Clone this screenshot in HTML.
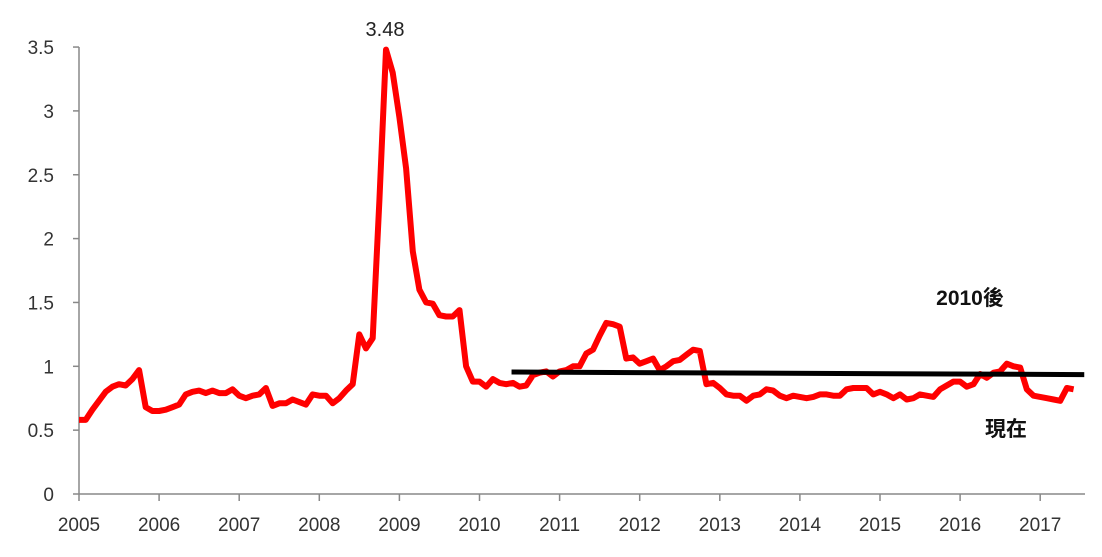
<!DOCTYPE html>
<html><head><meta charset="utf-8"><style>
body{margin:0;background:#fff;}
svg text{font-family:"Liberation Sans","Noto Sans CJK TC",sans-serif;}
</style></head><body>
<svg id="chart" width="1102" height="552" xmlns="http://www.w3.org/2000/svg">
<g id="axes"></g>
<g id="series"></g>
<text x="385" y="36" font-size="20" text-anchor="middle" fill="#222">3.48</text>
<text x="970" y="305" font-size="21" font-weight="bold" text-anchor="middle" fill="#111">2010後</text>
<text x="1006" y="436" font-size="21" font-weight="bold" text-anchor="middle" fill="#111">現在</text>
</svg>
<script>
const yTicks=[0,0.5,1,1.5,2,2.5,3,3.5];
const yTickLabels=["0","0.5","1","1.5","2","2.5","3","3.5"];
const years=[2005,2006,2007,2008,2009,2010,2011,2012,2013,2014,2015,2016,2017];
const values=[
.58,.58,.66,.73,.80,.84,.86,.85,.90,.97,.68,.65,
.65,.66,.68,.70,.78,.80,.81,.79,.81,.79,.79,.82,
.77,.75,.77,.78,.83,.69,.71,.71,.74,.72,.70,.78,
.77,.77,.71,.75,.81,.86,1.25,1.14,1.22,2.3,3.48,
3.3,2.95,2.55,1.9,1.6,1.5,1.49,1.4,1.39,1.39,1.44,1.0,.88,
.88,.84,.90,.87,.86,.87,.84,.85,.93,.95,.96,.92,
.96,.97,1.0,1.0,1.1,1.13,1.24,1.34,1.33,1.31,1.06,1.07,
1.02,1.04,1.06,.97,1.0,1.04,1.05,1.09,1.13,1.12,.86,.87,
.83,.78,.77,.77,.73,.77,.78,.82,.81,.77,.75,.77,
.76,.75,.76,.78,.78,.77,.77,.82,.83,.83,.83,.78,
.80,.78,.75,.78,.74,.75,.78,.77,.76,.82,.85,.88,
.88,.84,.86,.94,.91,.95,.96,1.02,1.00,.99,.82,.77,
.76,.75,.74,.73,.83,.82];
const refLine=[{year:2010.4,v:0.955},{year:2017.55,v:0.935}];
const NS="http://www.w3.org/2000/svg";
const x0=79,yearW=80.1,y0=494,yUnit=127.7;
const xs=t=>x0+(t-2005)*yearW;
const ys=v=>y0-v*yUnit;
const ax=document.getElementById('axes');
function mk(tag,attrs,parent){const e=document.createElementNS(NS,tag);for(const k in attrs)e.setAttribute(k,attrs[k]);parent.appendChild(e);return e;}
let e=mk('line',{x1:x0,y1:ys(3.5),x2:x0,y2:y0,stroke:'#888','stroke-width':1.5},ax);


e=mk('line',{x1:x0,y1:y0,x2:1085,y2:y0,stroke:'#888','stroke-width':1.5},ax);


yTicks.forEach((v,i)=>{
 const t=mk('line',{x1:x0-6,y1:ys(v),x2:x0,y2:ys(v),stroke:'#888','stroke-width':1.5},ax);
 
 
 const l=mk('text',{x:54,y:ys(v)+7,'font-size':19,'text-anchor':'end',fill:'#333'},ax);
 l.textContent=yTickLabels[i];
 
 
});
years.forEach(yr=>{
 const t=mk('line',{x1:xs(yr),y1:y0,x2:xs(yr),y2:y0+7,stroke:'#888','stroke-width':1.5},ax);
 
 
 const l=mk('text',{x:xs(yr),y:y0+37,'font-size':19,'text-anchor':'middle',fill:'#333'},ax);
 l.textContent=String(yr);
 
 
});
const sr=document.getElementById('series');
const pts=values.map((v,i)=>xs(2005+i/12).toFixed(1)+','+ys(v).toFixed(1)).join(' ');
const pl=mk('polyline',{points:pts,fill:'none',stroke:'#ff0000','stroke-width':6,'stroke-linejoin':'round'},sr);


const rl=mk('line',{x1:xs(refLine[0].year),y1:ys(refLine[0].v),x2:xs(refLine[1].year),y2:ys(refLine[1].v),stroke:'#000','stroke-width':5},sr);


</script>
</body></html>
